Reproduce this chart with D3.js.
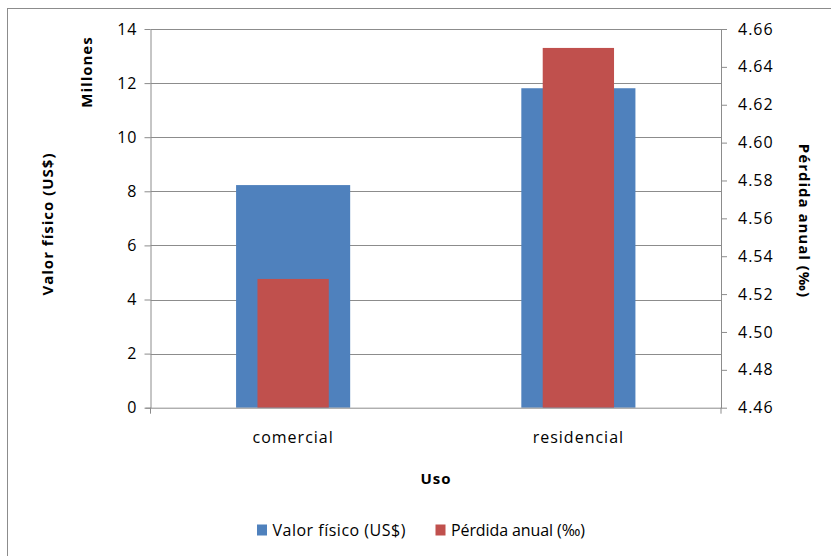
<!DOCTYPE html>
<html>
<head>
<meta charset="utf-8">
<script src="https://cdn.jsdelivr.net/npm/d3@7"></script>
<style>
  html, body { margin: 0; padding: 0; background: #fff; }
  svg { display: block; font-family: "Open Sans", Lato, sans-serif; }
</style>
</head>
<body>
<svg id="chart" width="831" height="556"></svg>
<script>
// Uso por categoría: valor físico (millones US$) y pérdida anual (‰)
const categories = ["comercial", "residencial"];
const valorFisico = [8.23, 11.81];
const perdidaAnual = [4.528, 4.650];
const leftTicks = [0, 2, 4, 6, 8, 10, 12, 14];
const rightTicks = [4.46, 4.48, 4.50, 4.52, 4.54, 4.56, 4.58, 4.60, 4.62, 4.64, 4.66];
const seriesNames = ["Valor físico (US$)", "Pérdida anual (‰)"];
const colors = ["#4F81BD", "#C0504D"];

const FONT = "'Open Sans', Lato, sans-serif";

const svg = d3.select("#chart");
const W = 831, H = 556;
const plot = { left: 150.5, right: 721, top: 29, bottom: 407.7 };

// outer frame
svg.append("rect")
  .attr("x", 7.5).attr("y", 8.5)
  .attr("width", W).attr("height", H)
  .attr("fill", "none").attr("stroke", "#8c8c8c").attr("stroke-width", 1);

const x = d3.scaleBand().domain(categories).range([plot.left, plot.right]);
const yL = d3.scaleLinear().domain([0, 14]).range([plot.bottom, plot.top]);
const yR = d3.scaleLinear().domain([4.46, 4.66]).range([plot.bottom, plot.top]);

// gridlines
svg.append("g").selectAll("line").data(leftTicks.filter(d => d > 0)).join("line")
  .attr("x1", plot.left).attr("x2", plot.right)
  .attr("y1", d => Math.round(yL(d)) + 0.5).attr("y2", d => Math.round(yL(d)) + 0.5)
  .attr("stroke", "#8c8c8c").attr("stroke-width", 1);

// blue bars (left axis)
const blueW = x.bandwidth() * 0.4;
svg.append("g").selectAll("rect").data(categories).join("rect")
  .attr("x", (d) => x(d) + x.bandwidth() / 2 - blueW / 2)
  .attr("width", blueW)
  .attr("y", (d, i) => yL(valorFisico[i]))
  .attr("height", (d, i) => yL(0) - yL(valorFisico[i]))
  .attr("fill", colors[0]);

// red bars (right axis)
const redW = x.bandwidth() * 0.25;
svg.append("g").selectAll("rect").data(categories).join("rect")
  .attr("x", (d) => x(d) + x.bandwidth() / 2 - redW / 2)
  .attr("width", redW)
  .attr("y", (d, i) => yR(perdidaAnual[i]))
  .attr("height", (d, i) => yR(4.46) - yR(perdidaAnual[i]))
  .attr("fill", colors[1]);

// axes
const axisStyle = g => {
  g.selectAll(".domain").attr("stroke", "#8c8c8c");
  g.selectAll(".tick line").attr("stroke", "#8c8c8c");
  g.selectAll("text").attr("fill", "#000").style("font-size", "16px")
    .style("font-family", FONT).style("letter-spacing", "1px");
};

svg.append("g")
  .attr("transform", `translate(${plot.left},0)`)
  .call(d3.axisLeft(yL).tickValues(leftTicks).tickSize(6).tickSizeOuter(0).tickPadding(7))
  .call(axisStyle);

svg.append("g")
  .attr("transform", `translate(${plot.right},0)`)
  .call(d3.axisRight(yR).tickValues(rightTicks).tickFormat(d3.format(".2f")).tickSize(6).tickSizeOuter(0).tickPadding(11))
  .call(axisStyle);

const xAxis = svg.append("g")
  .attr("transform", `translate(0,${plot.bottom})`)
  .call(d3.axisBottom(x).tickSize(0).tickSizeOuter(0).tickPadding(24))
  .call(axisStyle);
xAxis.select(".domain").attr("d", `M${plot.left - 5},0.5H${plot.right}`);
// small ticks under the axis ends
[plot.left, plot.right].forEach(px => svg.append("line")
  .attr("x1", px).attr("x2", px)
  .attr("y1", plot.bottom).attr("y2", plot.bottom + 6)
  .attr("stroke", "#8c8c8c"));

// axis titles
const title = (txt, tx, ty, rot) => svg.append("text")
  .attr("transform", `translate(${tx},${ty}) rotate(${rot})`)
  .attr("text-anchor", "middle").attr("dominant-baseline", "central")
  .style("font-size", "15px").style("font-weight", "bold")
  .style("letter-spacing", "1px")
  .text(txt);

title("Valor físico  (US$)", 47, 224, -90);
title("Millones", 86, 72, -90);
title("Pérdida anual (‰)", 805, 221, 90);
title("Uso", 436, 478, 0);

// legend
const legend = svg.append("g").attr("transform", "translate(257,530)");
const items = legend.selectAll("g").data(seriesNames).join("g")
  .attr("transform", (d, i) => `translate(${i === 0 ? 0 : 178.5},0)`);
items.append("rect")
  .attr("x", 0).attr("y", -5.5).attr("width", 10).attr("height", 11)
  .attr("fill", (d, i) => colors[i]);
items.append("text")
  .attr("x", 15.5).attr("y", 0).attr("dominant-baseline", "central")
  .style("font-size", "16px")
  .style("letter-spacing", (d, i) => i === 0 ? "0.5px" : "-0.1px")
  .text(d => d);
</script>
</body>
</html>
